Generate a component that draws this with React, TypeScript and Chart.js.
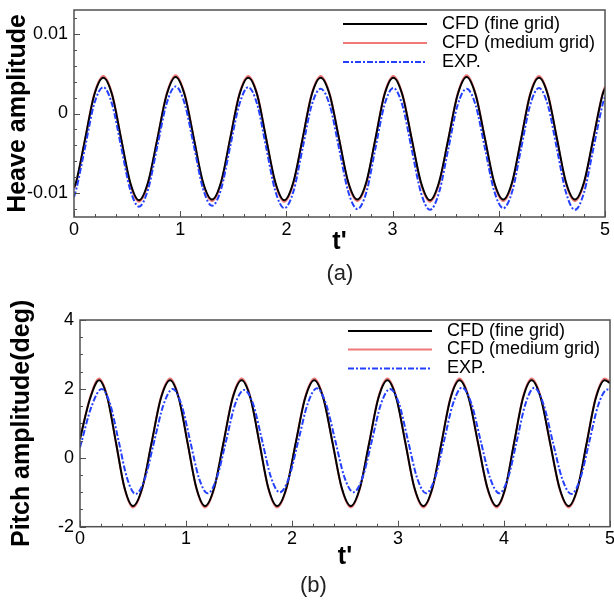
import React, { useEffect, useRef } from 'react';
import { Chart, registerables } from 'chart.js';
Chart.register(...registerables);

const FONT = "'Liberation Sans', Arial, sans-serif";

// ---------- Heave (a) ----------
const heaveT = [0, 0.020, 0.105, 0.190, 0.276,
  0.360, 0.444, 0.528, 0.612, 0.698, 0.785, 0.871, 0.957,
  1.043, 1.129, 1.214, 1.300, 1.385, 1.470, 1.556, 1.641,
  1.726, 1.810, 1.895, 1.980, 2.066, 2.152, 2.237, 2.323,
  2.409, 2.496, 2.582, 2.668, 2.753, 2.838, 2.922, 3.007,
  3.093, 3.180, 3.266, 3.352, 3.438, 3.525, 3.611, 3.697,
  3.783, 3.870, 3.956, 4.042, 4.126, 4.210, 4.294, 4.378,
  4.463, 4.548, 4.632, 4.717, 4.803, 4.889, 4.975, 5.0];
const heaveFine = [-0.0093, -0.0086, -0.0032, 0.0023, 0.0045,
  0.0023, -0.0032, -0.0086, -0.0109, -0.0086, -0.0032, 0.0023, 0.0046,
  0.0023, -0.0032, -0.0086, -0.0108, -0.0086, -0.0032, 0.0023, 0.0045,
  0.0023, -0.0032, -0.0086, -0.0109, -0.0086, -0.0032, 0.0023, 0.0045,
  0.0023, -0.0032, -0.0086, -0.0108, -0.0086, -0.0032, 0.0023, 0.0045,
  0.0023, -0.0032, -0.0086, -0.0109, -0.0086, -0.0032, 0.0023, 0.0046,
  0.0023, -0.0032, -0.0086, -0.0108, -0.0086, -0.0032, 0.0023, 0.0045,
  0.0023, -0.0032, -0.0086, -0.0108, -0.0086, -0.0032, 0.0023, 0.0032];
const heaveMedium = [-0.0094, -0.0088, -0.0032, 0.0024, 0.0047,
  0.0024, -0.0032, -0.0088, -0.0111, -0.0088, -0.0032, 0.0024, 0.0048,
  0.0024, -0.0032, -0.0088, -0.0110, -0.0088, -0.0032, 0.0024, 0.0047,
  0.0024, -0.0032, -0.0088, -0.0111, -0.0088, -0.0032, 0.0024, 0.0047,
  0.0024, -0.0032, -0.0088, -0.0110, -0.0088, -0.0032, 0.0024, 0.0047,
  0.0024, -0.0032, -0.0088, -0.0111, -0.0088, -0.0032, 0.0024, 0.0048,
  0.0024, -0.0032, -0.0088, -0.0110, -0.0088, -0.0032, 0.0024, 0.0047,
  0.0024, -0.0032, -0.0088, -0.0110, -0.0088, -0.0032, 0.0024, 0.0034];
const heaveExp = [-0.0105, -0.0096, -0.0042, 0.0012, 0.0033,
  0.0011, -0.0042, -0.0095, -0.0117, -0.0095, -0.0041, 0.0012, 0.0034,
  0.0012, -0.0041, -0.0094, -0.0116, -0.0095, -0.0042, 0.0011, 0.0033,
  0.0011, -0.0043, -0.0097, -0.0119, -0.0098, -0.0044, 0.0010, 0.0031,
  0.0010, -0.0044, -0.0098, -0.0120, -0.0099, -0.0044, 0.0010, 0.0032,
  0.0010, -0.0045, -0.0099, -0.0121, -0.0099, -0.0044, 0.0010, 0.0031,
  0.0010, -0.0044, -0.0097, -0.0119, -0.0098, -0.0044, 0.0010, 0.0032,
  0.0010, -0.0045, -0.0099, -0.0121, -0.0099, -0.0045, 0.0010, 0.0022];

// ---------- Pitch (b) ----------
const pitchT = [0, 0.095, 0.18,
  0.26, 0.34, 0.42, 0.50, 0.5875, 0.675, 0.7625, 0.85,
  0.9325, 1.015, 1.0975, 1.18, 1.266, 1.353, 1.439, 1.525,
  1.609, 1.693, 1.776, 1.86, 1.948, 2.035, 2.123, 2.21,
  2.296, 2.383, 2.469, 2.555, 2.641, 2.728, 2.814, 2.90,
  2.985, 3.07, 3.155, 3.24, 3.325, 3.41, 3.495, 3.58,
  3.668, 3.755, 3.843, 3.93, 4.013, 4.095, 4.178, 4.26,
  4.348, 4.435, 4.523, 4.61, 4.695, 4.78, 4.865, 4.95,
  5.0];
const pitchFine = [0.55, 1.72, 2.25,
  1.72, 0.43, -0.87, -1.40, -0.87, 0.43, 1.72, 2.25,
  1.72, 0.43, -0.87, -1.40, -0.87, 0.43, 1.72, 2.25,
  1.72, 0.43, -0.87, -1.40, -0.87, 0.43, 1.72, 2.25,
  1.72, 0.43, -0.87, -1.40, -0.87, 0.43, 1.72, 2.25,
  1.72, 0.43, -0.87, -1.40, -0.87, 0.43, 1.72, 2.25,
  1.72, 0.43, -0.87, -1.40, -0.87, 0.43, 1.72, 2.25,
  1.72, 0.43, -0.87, -1.40, -0.87, 0.43, 1.72, 2.25,
  2.17];
const pitchMedium = [0.57, 1.75, 2.30,
  1.75, 0.43, -0.89, -1.44, -0.89, 0.43, 1.75, 2.30,
  1.75, 0.43, -0.89, -1.44, -0.89, 0.43, 1.75, 2.30,
  1.75, 0.43, -0.89, -1.44, -0.89, 0.43, 1.75, 2.30,
  1.75, 0.43, -0.89, -1.44, -0.89, 0.43, 1.75, 2.30,
  1.75, 0.43, -0.89, -1.44, -0.89, 0.43, 1.75, 2.30,
  1.75, 0.43, -0.89, -1.44, -0.89, 0.43, 1.75, 2.30,
  1.75, 0.43, -0.89, -1.44, -0.89, 0.43, 1.75, 2.30,
  2.22];
const pitchExpT = [0, 0.11, 0.205,
  0.285, 0.365, 0.445, 0.525, 0.6125, 0.70, 0.7875, 0.875,
  0.9575, 1.04, 1.1225, 1.205, 1.291, 1.378, 1.464, 1.55,
  1.634, 1.718, 1.801, 1.885, 1.973, 2.06, 2.148, 2.235,
  2.321, 2.408, 2.494, 2.58, 2.666, 2.753, 2.839, 2.925,
  3.01, 3.095, 3.18, 3.265, 3.35, 3.435, 3.52, 3.605,
  3.693, 3.78, 3.868, 3.955, 4.038, 4.12, 4.203, 4.285,
  4.373, 4.46, 4.548, 4.635, 4.72, 4.805, 4.89, 4.975,
  5.0];
const pitchExp = [0.30, 1.50, 2.00,
  1.55, 0.48, -0.60, -1.05, -0.60, 0.48, 1.54, 2.00,
  1.54, 0.48, -0.59, -1.03, -0.58, 0.49, 1.56, 1.97,
  1.55, 0.50, -0.56, -1.00, -0.56, 0.50, 1.57, 2.02,
  1.56, 0.50, -0.56, -1.00, -0.57, 0.49, 1.56, 2.00,
  1.57, 0.49, -0.58, -1.03, -0.58, 0.50, 1.58, 2.04,
  1.57, 0.49, -0.58, -1.03, -0.59, 0.48, 1.57, 2.03,
  1.55, 0.47, -0.60, -1.05, -0.60, 0.47, 1.54, 1.98,
  1.96];

const legendLabels = ['CFD (fine grid)', 'CFD (medium grid)', 'EXP.'];
const xTicks = [0, 1, 2, 3, 4, 5];
const heaveYTicks = [-0.01, 0, 0.01];
const pitchYTicks = [-2, 0, 2, 4];

const frameTicks = {
  id: 'frameTicks',
  afterDatasetsDraw(chart: any, _a: any, opts: any) {
    const { ctx, chartArea: a, scales } = chart;
    const x = scales.x, y = scales.y;
    ctx.save();
    ctx.strokeStyle = '#505050';
    ctx.lineWidth = 1;
    ctx.beginPath();
    for (let v = x.min; v <= x.max + 1e-9; v += opts.xMinor) {
      const px = Math.round(x.getPixelForValue(v)) + 0.5;
      const major = Math.abs(v - Math.round(v / opts.xMajor) * opts.xMajor) < 1e-6;
      const len = major ? 6 : 3;
      ctx.moveTo(px, a.bottom);
      ctx.lineTo(px, a.bottom - len);
    }
    const start = Math.ceil(y.min / opts.yMinor - 1e-6) * opts.yMinor;
    for (let v = start; v <= y.max + 1e-12; v += opts.yMinor) {
      const py = Math.round(y.getPixelForValue(v)) + 0.5;
      const major = Math.abs(v - Math.round(v / opts.yMajor) * opts.yMajor) < opts.yMinor * 0.01;
      const len = major ? 6 : 3;
      ctx.moveTo(a.left, py);
      ctx.lineTo(a.left + len, py);
    }
    ctx.stroke();
    ctx.lineWidth = 1.5;
    ctx.strokeRect(a.left, a.top, a.right - a.left, a.bottom - a.top);
    ctx.restore();
  },
};

const lineLegend = {
  id: 'lineLegend',
  afterDraw(chart: any, _a: any, opts: any) {
    const { ctx, chartArea: a } = chart;
    ctx.save();
    chart.data.datasets.forEach((d: any, i: number) => {
      const y = a.top + opts.rows[i];
      ctx.beginPath();
      ctx.setLineDash(d.borderDash || []);
      ctx.strokeStyle = d.borderColor;
      ctx.lineWidth = d.borderWidth;
      ctx.moveTo(a.right - 262, y);
      ctx.lineTo(a.right - 178, y);
      ctx.stroke();
      ctx.setLineDash([]);
      ctx.fillStyle = '#000';
      ctx.font = `18px ${FONT}`;
      ctx.textBaseline = 'middle';
      ctx.textAlign = 'left';
      ctx.fillText(d.label, a.right - 163, y);
    });
    ctx.restore();
  },
};

function makeConfig(p: any) {
  const toPts = (t: number[], v: number[]) => t.map((tt, i) => ({ x: tt, y: v[i] }));
  return {
    type: 'line',
    data: {
      datasets: [
        { label: legendLabels[0], data: toPts(p.t, p.fine), borderColor: '#000000', borderWidth: 2, order: 1 },
        { label: legendLabels[1], data: toPts(p.t, p.medium), borderColor: 'rgb(240,120,120)', borderWidth: 2, order: 2 },
        { label: legendLabels[2], data: toPts(p.expT, p.exp), borderColor: '#2440ff', borderWidth: 2, borderDash: [6, 2, 2, 2], order: 0 },
      ],
    },
    options: {
      responsive: false,
      animation: false,
      events: [],
      layout: { padding: { top: p.padTop, right: p.padRight, left: 0, bottom: 0 } },
      elements: {
        point: { radius: 0 },
        line: { cubicInterpolationMode: 'monotone', fill: false },
      },
      plugins: {
        legend: { display: false },
        tooltip: { enabled: false },
        frameTicks: { xMinor: 0.2, xMajor: 1, yMinor: p.yMinor, yMajor: p.yMajor },
        lineLegend: { rows: p.rows },
      },
      scales: {
        x: {
          type: 'linear', min: 0, max: 5,
          afterBuildTicks: (s: any) => { s.ticks = xTicks.map((v) => ({ value: v })); },
          afterFit: (s: any) => { s.height = p.xAxisH; s.paddingLeft = 0; s.paddingRight = 0; },
          grid: { display: false, drawTicks: false },
          border: { display: false },
          ticks: { font: { family: FONT, size: 18 }, color: '#000', padding: 2, maxRotation: 0, autoSkip: false },
          title: { display: true, text: "t'", color: '#000', font: { family: FONT, size: 25, weight: 'bold' }, padding: { top: 0, bottom: p.xTitlePad } },
        },
        y: {
          type: 'linear', min: p.yMin, max: p.yMax,
          afterBuildTicks: (s: any) => { s.ticks = p.yTicks.map((v: number) => ({ value: v })); },
          afterFit: (s: any) => { s.width = p.yAxisW; s.paddingTop = 0; s.paddingBottom = 0; },
          grid: { display: false, drawTicks: false },
          border: { display: false },
          ticks: { font: { family: FONT, size: 18 }, color: '#000', padding: 6, callback: (v: number) => String(v) },
          title: { display: true, text: p.yTitle, color: '#000', font: { family: FONT, size: 25, weight: 'bold' }, padding: { top: p.yTitlePad, bottom: 0 } },
        },
      },
    },
    plugins: [frameTicks, lineLegend],
  } as any;
}

export default function App() {
  const topRef = useRef<HTMLCanvasElement>(null);
  const botRef = useRef<HTMLCanvasElement>(null);
  useEffect(() => {
    const c1 = new Chart(topRef.current as HTMLCanvasElement, makeConfig({
      t: heaveT, fine: heaveFine, medium: heaveMedium, expT: heaveT, exp: heaveExp,
      yMin: -0.013, yMax: 0.013, yTicks: heaveYTicks, yMinor: 0.002, yMajor: 0.01,
      yTitle: 'Heave amplitude', padTop: 10, padRight: 9, yAxisW: 74, xAxisH: 83,
      xTitlePad: 43, yTitlePad: 3, rows: [14, 33, 52],
    }));
    const c2 = new Chart(botRef.current as HTMLCanvasElement, makeConfig({
      t: pitchT, fine: pitchFine, medium: pitchMedium, expT: pitchExpT, exp: pitchExp,
      yMin: -2, yMax: 4, yTicks: pitchYTicks, yMinor: 0.5, yMajor: 2,
      yTitle: 'Pitch amplitude(deg)', padTop: 20, padRight: 4, yAxisW: 80, xAxisH: 77.3,
      xTitlePad: 32, yTitlePad: 7.5, rows: [11, 29.5, 48.5],
    }));
    return () => { c1.destroy(); c2.destroy(); };
  }, []);
  const cap: React.CSSProperties = {
    position: 'absolute', width: 80, textAlign: 'center', fontFamily: FONT,
    fontSize: 22, lineHeight: '26px', color: '#222',
  };
  return (
    <div style={{ position: 'absolute', left: 0, top: 0, width: 614, height: 604, background: '#fff', overflow: 'hidden' }}>
      <canvas ref={topRef} width={614} height={300} style={{ position: 'absolute', left: 0, top: 0, width: 614, height: 300 }} />
      <canvas ref={botRef} width={614} height={304} style={{ position: 'absolute', left: 0, top: 300, width: 614, height: 304 }} />
      <div style={{ ...cap, left: 300, top: 260 }}>(a)</div>
      <div style={{ ...cap, left: 273.5, top: 572 }}>(b)</div>
    </div>
  );
}
